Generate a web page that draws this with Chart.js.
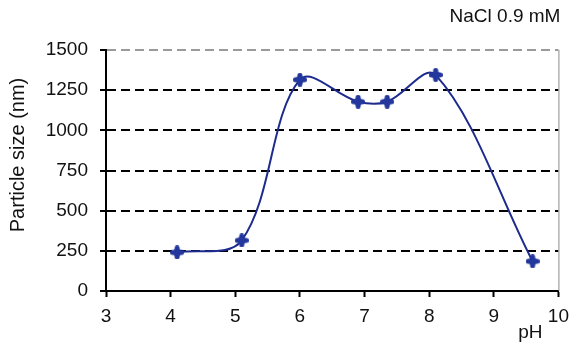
<!DOCTYPE html>
<html>
<head>
<meta charset="utf-8">
<script src="https://cdn.jsdelivr.net/npm/chart.js@4"></script>
<style>
  html, body { margin: 0; padding: 0; background: #fff; }
</style>
</head>
<body>
<canvas id="chart" width="577" height="347"></canvas>
<script>
// --- Data ---
const phValues = [4.1, 5.1, 6.0, 6.9, 7.35, 8.1, 9.6];
const particleSizes = [240, 315, 1315, 1178, 1178, 1345, 185];
const xRange = [3, 10];
const yRange = [0, 1500];
const yStep = 250;
const yTitle = 'Particle size (nm)';
const xTitle = 'pH';
const topNote = 'NaCl 0.9 mM';

const FONT = "'Liberation Sans', Arial, sans-serif";
const LINE_BLUE = '#1d2b8e';

// marker: filled blob with four little arms, like the reference
function makeMarker() {
    const c = document.createElement('canvas');
    c.width = 14; c.height = 14;
    const g = c.getContext('2d');
    g.fillStyle = '#24379c';
    g.strokeStyle = '#24379c';
    g.lineWidth = 5;
    g.lineCap = 'round';
    g.beginPath();
    g.moveTo(7, 2.5); g.lineTo(7, 11.5);
    g.moveTo(2.5, 7); g.lineTo(11.5, 7);
    g.stroke();
    g.beginPath();
    g.arc(7, 7, 4.2, 0, Math.PI * 2);
    g.fill();
    return c;
}

// texts placed around the plot (titles sit off-centre in the original)
const textPlugin = {
    id: 'sideTexts',
    afterDraw(chart) {
        const { ctx, chartArea } = chart;
        ctx.save();
        ctx.fillStyle = '#111';
        ctx.font = `19px ${FONT}`;
        ctx.textBaseline = 'middle';

        ctx.textAlign = 'right';
        ctx.fillText(topNote, chartArea.right + 2, 17);

        ctx.textAlign = 'center';
        ctx.fillText(xTitle, chartArea.right - 28, 333);

        ctx.font = `20px ${FONT}`;
        ctx.translate(18, 155);
        ctx.rotate(-Math.PI / 2);
        ctx.fillText(yTitle, 0, 0);
        ctx.restore();

        // thin grey frame on the right side
        ctx.save();
        ctx.strokeStyle = '#8c8c8c';
        ctx.lineWidth = 1;
        ctx.beginPath();
        ctx.moveTo(chartArea.right + 0.5, chartArea.top);
        ctx.lineTo(chartArea.right + 0.5, chartArea.bottom);
        ctx.stroke();
        ctx.restore();
    }
};

new Chart(document.getElementById('chart'), {
    type: 'scatter',
    data: {
        datasets: [{
            data: phValues.map((x, i) => ({ x: x, y: particleSizes[i] })),
            showLine: true,
            borderColor: LINE_BLUE,
            borderWidth: 2,
            tension: 0.35,
            pointStyle: makeMarker(),
            pointRadius: 7,
            pointHoverRadius: 7
        }]
    },
    options: {
        responsive: false,
        animation: false,
        events: [],
        layout: { padding: { top: 50, right: 14, left: 0, bottom: 0 } },
        plugins: {
            legend: { display: false },
            title: { display: false },
            tooltip: { enabled: false }
        },
        scales: {
            x: {
                type: 'linear',
                min: xRange[0],
                max: xRange[1],
                afterFit: (scale) => { scale.height = 56; },
                ticks: {
                    stepSize: 1,
                    color: '#111',
                    font: { family: FONT, size: 19 },
                    padding: 8,
                    maxRotation: 0
                },
                grid: {
                    drawOnChartArea: false,
                    drawTicks: true,
                    tickLength: 6,
                    tickColor: '#000',
                    tickWidth: 2
                },
                border: { display: true, color: '#000', width: 2 }
            },
            y: {
                type: 'linear',
                min: yRange[0],
                max: yRange[1],
                afterFit: (scale) => { scale.width = 106; },
                ticks: {
                    stepSize: yStep,
                    color: '#111',
                    font: { family: FONT, size: 19 },
                    padding: 12,
                    callback: (v) => String(v)
                },
                grid: {
                    drawTicks: true,
                    tickLength: 6,
                    tickColor: '#000',
                    tickWidth: 2,
                    lineWidth: 2,
                    color: (ctx) => ctx.tick && ctx.tick.value === yRange[1] ? '#9a9a9a' : '#000'
                },
                border: { display: true, color: '#000', width: 2, dash: [9, 5] }
            }
        }
    },
    plugins: [textPlugin]
});
</script>
</body>
</html>
